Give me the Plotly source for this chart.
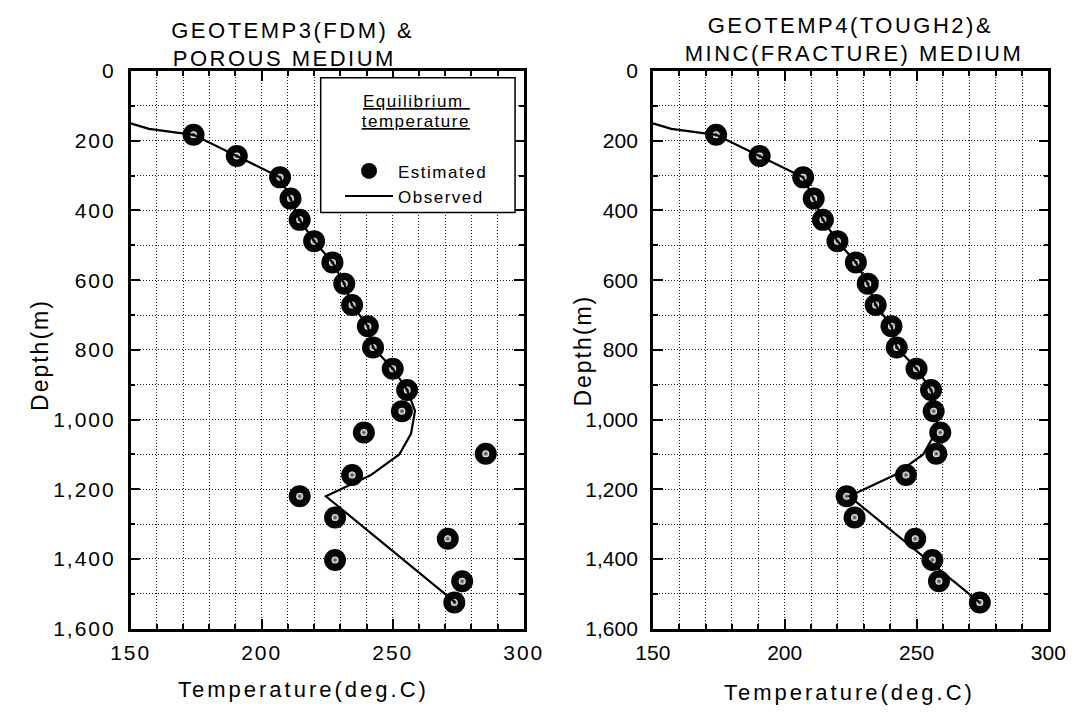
import plotly.graph_objects as go

# Depths (m) of the estimated equilibrium temperatures
depth_est = [183, 244, 305, 366, 427, 488, 549, 610, 671, 732, 793, 854,
             915, 976, 1037, 1098, 1159, 1220, 1281, 1342, 1403, 1464, 1525]

# Estimated temperatures (deg.C): GEOTEMP3 (FDM, porous medium)
temp_fdm = [174, 190.5, 207, 211, 214.5, 220, 227, 231.5, 234.5, 240.5, 242.5, 250,
            255.5, 253.5, 239, 285.5, 234.5, 214.5, 228, 271, 228, 276.5, 273.5]

# Estimated temperatures (deg.C): GEOTEMP4 (TOUGH2, MINC fracture medium)
temp_tough2 = [174, 190.5, 207, 211, 214.5, 220, 227, 231.5, 234.5, 240.5, 242.5, 250,
               255.5, 256.5, 259, 257.5, 246, 223.5, 226.5, 249.5, 256, 258.5, 274]

# Observed temperature profile
depth_obs = [150, 166, 183, 244, 305, 366, 427, 488, 549, 610, 671, 732, 793,
             854, 915, 975, 1040, 1100, 1160, 1220, 1525]
temp_obs = [150, 157, 174, 190.5, 207, 211, 214.5, 220, 227, 231.5, 234.5, 240.5,
            242.5, 250, 255.5, 258.5, 257, 252.5, 241.5, 224.5, 274]

titles_left = ["GEOTEMP3(FDM) &", "POROUS MEDIUM"]
titles_right = ["GEOTEMP4(TOUGH2)&", "MINC(FRACTURE) MEDIUM"]
legend_heading = ["Equilibrium ", "temperature"]
x_label = "Temperature(deg.C)"
y_label = "Depth(m)"

W, H = 1092, 721
FONT = "Liberation Sans, Arial, sans-serif"


def fx(p):
    return p / W


def fy(p):
    return 1 - p / H


fig = go.Figure()

for xa, ya, temps, show in [("x", "y", temp_fdm, True), ("x2", "y2", temp_tough2, False)]:
    fig.add_trace(go.Scatter(
        x=temps, y=depth_est, xaxis=xa, yaxis=ya, mode="markers", name="Estimated",
        marker=dict(size=22, color="#050505", line=dict(width=0)),
        showlegend=show, legendrank=1))
    # specular highlight on each ball
    fig.add_trace(go.Scatter(
        x=temps, y=depth_est, xaxis=xa, yaxis=ya, mode="markers",
        marker=dict(size=7, color="#ffffff", line=dict(width=0),
                    gradient=dict(type="radial", color="#303030")),
        showlegend=False, hoverinfo="skip"))
    fig.add_trace(go.Scatter(
        x=temp_obs, y=depth_obs, xaxis=xa, yaxis=ya, mode="lines", name="Observed",
        line=dict(color="black", width=2.2),
        showlegend=show, legendrank=2))

grid = dict(showgrid=True, gridcolor="#1a1a1a", gridwidth=1, griddash="1px,2px")
common = dict(showline=True, linewidth=2.5, linecolor="black", mirror="allticks",
              ticks="inside", ticklen=10, tickwidth=2, tickcolor="black",
              zeroline=False, tickfont=dict(size=21, color="black", family=FONT),
              **grid)
minor = dict(ticks="inside", ticklen=5, tickwidth=1.5, tickcolor="black", **grid)

xcommon = dict(common, range=[150, 300], tick0=150, dtick=50,
               minor=dict(minor, dtick=10), ticklabelstandoff=3)
ycommon = dict(common, range=[1600, 0], tick0=0, dtick=200, tickformat=",d",
               minor=dict(minor, dtick=100), ticklabelstandoff=8)

fig.update_layout(
    width=W, height=H,
    margin=dict(l=0, r=0, t=0, b=0),
    paper_bgcolor="white", plot_bgcolor="white",
    font=dict(family=FONT, color="black"),
    xaxis=dict(xcommon, domain=[fx(116.5), fx(523)], anchor="y"),
    yaxis=dict(ycommon, domain=[fy(637), fy(61)], anchor="x"),
    xaxis2=dict(xcommon, domain=[fx(656.5), fx(1065.5)], anchor="y2"),
    yaxis2=dict(ycommon, domain=[fy(637), fy(61)], anchor="x2"),
    legend=dict(x=fx(333), y=fy(146), xanchor="left", yanchor="top",
                bgcolor="rgba(0,0,0,0)", borderwidth=0, itemwidth=48,
                font=dict(size=17, color="black", family=FONT), tracegroupgap=0),
    showlegend=True,
)

ann = []


def text(t, x, y, size=22, angle=0):
    ann.append(dict(text=t, x=fx(x), y=fy(y), xref="paper", yref="paper",
                    xanchor="center", yanchor="middle", showarrow=False,
                    textangle=angle, font=dict(size=size, color="black", family=FONT)))


text(titles_left[0], 284, 19)
text(titles_left[1], 276, 48)
text(titles_right[0], 861, 14)
text(titles_right[1], 865, 43)
text(x_label, 295, 700)
text(x_label, 860, 703)
text(y_label, 22, 354, size=23, angle=-90)
text(y_label, 584, 350, size=23, angle=-90)
text("<u>" + legend_heading[0] + "</u>", 412, 92, size=17)
text("<u>" + legend_heading[1] + "</u>", 412, 113, size=17)
fig.update_layout(annotations=ann)

# legend frame
fig.add_shape(type="rect", xref="paper", yref="paper",
              x0=fx(313), x1=fx(514), y0=fy(207), y1=fy(68),
              line=dict(color="black", width=1.5), fillcolor="white", layer="above")

# wide letter spacing for all labels
css = (".xtick text,.ytick text{letter-spacing:2px}"
       ".annotation text{letter-spacing:2.5px}"
       ".annotation[data-index='4'] text,.annotation[data-index='5'] text{letter-spacing:3px}"
       ".annotation[data-index='6'] text,.annotation[data-index='7'] text{letter-spacing:2px}"
       ".annotation[data-index='8'] text,.annotation[data-index='9'] text{letter-spacing:1.5px}"
       ".legend text{letter-spacing:1.5px}"
       ".legend .scrollbox,.legend g{clip-path:none !important}")
post = ("var s=document.createElement('style');"
        "s.textContent=\"" + css + "\";"
        "document.head.appendChild(s);")
fig.write_html("out.html", post_script=post)
